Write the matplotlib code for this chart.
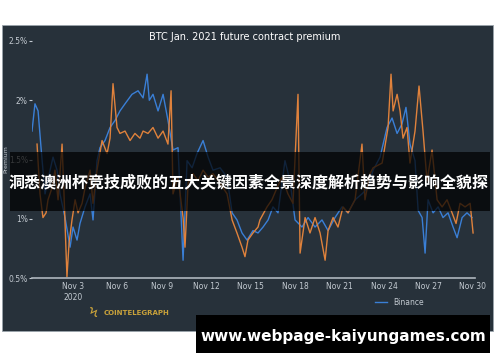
import matplotlib
matplotlib.use("Agg")
import matplotlib.pyplot as plt
from matplotlib.patches import Rectangle
from matplotlib.ticker import FuncFormatter

# premium in %, x = day of November 2020
blue_days = [0.23, 0.43, 0.64, 0.84, 0.97, 1.11, 1.45, 1.65, 1.92, 2.12, 2.46, 2.80, 3.00,
             3.27, 3.47, 3.81, 4.15, 4.35, 4.62, 4.82, 5.16, 5.50, 5.84, 6.17, 6.51, 6.98,
             7.39, 7.73, 8.00, 8.15, 8.40, 8.74, 9.08, 9.41, 9.75, 10.09, 10.43, 10.70,
             11.04, 11.37, 11.78, 12.12, 12.45, 12.93, 13.40, 13.74, 14.07, 14.41, 14.75,
             15.15, 15.49, 15.83, 16.17, 16.50, 16.84, 17.31, 17.65, 17.99, 18.46, 18.87,
             19.34, 19.81, 20.22, 20.69, 21.16, 21.57, 22.04, 22.51, 22.92, 23.26, 23.73,
             24.20, 24.54, 24.88, 25.21, 25.48, 25.75, 26.09, 26.30, 26.57, 26.77, 26.97,
             27.31, 27.65, 27.98, 28.32, 28.66, 28.93, 29.27, 29.60, 29.94]
blue_vals = [1.74, 1.97, 1.91, 1.60, 1.41, 1.21, 1.41, 1.52, 1.41, 1.21, 1.01, 0.76, 0.93,
             0.82, 0.96, 1.10, 1.21, 0.99, 1.49, 1.60, 1.66, 1.77, 1.83, 1.91, 1.97, 2.05,
             2.08, 2.02, 2.22, 2.00, 2.05, 1.91, 2.05, 1.83, 1.58, 1.60, 0.65, 1.49,
             1.43, 1.55, 1.66, 1.52, 1.41, 1.43, 1.35, 1.05, 0.99, 0.88, 0.82,
             0.90, 0.88, 0.93, 0.99, 1.10, 1.05, 1.49, 1.32, 0.99, 0.93, 1.01,
             0.93, 0.99, 0.90, 1.01, 1.10, 1.05, 1.16, 1.21, 1.26, 1.41, 1.52,
             1.77, 1.85, 1.72, 1.80, 1.94, 1.63, 1.49, 1.07, 1.01, 0.71, 1.16,
             1.05, 1.10, 1.01, 1.05, 0.93, 0.84, 1.01, 1.05, 1.01]

orange_days = [0.57, 0.77, 0.97, 1.18, 1.31, 1.58, 1.78, 1.99, 2.26, 2.39, 2.59, 2.73, 2.93,
               3.14, 3.34, 3.61, 3.81, 4.15, 4.35, 4.62, 4.96, 5.30, 5.50, 5.70, 5.97, 6.17,
               6.51, 6.85, 7.18, 7.52, 7.73, 8.06, 8.40, 8.74, 9.08, 9.41, 9.62, 9.75,
               10.09, 10.43, 10.56, 10.77, 11.10, 11.44, 11.78, 12.12, 12.45, 12.93, 13.40,
               13.74, 14.07, 14.41, 14.61, 14.81, 15.15, 15.49, 15.62, 16.10, 16.43, 16.77,
               17.11, 17.51, 17.85, 18.19, 18.33, 18.67, 19.00, 19.34, 19.68, 20.02, 20.22,
               20.56, 20.89, 21.23, 21.57, 22.04, 22.51, 22.71, 23.05, 23.26, 23.87, 24.27,
               24.47, 24.61, 24.88, 25.08, 25.28, 25.55, 25.75, 26.09, 26.36, 26.63, 26.90,
               27.24, 27.58, 27.92, 28.25, 28.59, 28.86, 29.13, 29.47, 29.81, 30.01]
orange_vals = [1.63, 1.21, 1.01, 1.05, 1.16, 1.26, 1.41, 1.16, 1.63, 1.21, 0.51, 0.79, 0.99,
               1.16, 1.05, 1.13, 1.26, 1.41, 1.13, 1.41, 1.66, 1.55, 1.68, 2.14, 1.77, 1.72,
               1.74, 1.66, 1.72, 1.68, 1.74, 1.72, 1.77, 1.68, 1.74, 1.63, 2.08, 1.21,
               1.35, 1.01, 0.76, 1.30, 1.38, 1.32, 1.41, 1.35, 1.38, 1.30, 1.21,
               0.99, 0.88, 0.76, 0.68, 0.82, 0.88, 0.93, 0.99, 1.10, 1.16, 1.26,
               1.35, 1.21, 1.13, 2.05, 0.71, 1.01, 0.88, 1.01, 0.88, 0.65, 0.90,
               1.01, 0.93, 1.10, 1.05, 1.16, 1.63, 1.16, 1.38, 1.43, 1.47, 1.77,
               2.22, 1.91, 2.05, 1.91, 1.68, 1.77, 1.47, 1.74, 2.12, 1.74, 1.32,
               1.58, 1.16, 1.10, 1.16, 1.05, 0.96, 1.13, 1.10, 1.13, 0.88]

tick_days = [3, 6, 9, 12, 15, 18, 21, 24, 27, 30]
tick_labels = ["Nov 3\n2020", "Nov 6", "Nov 9", "Nov 12", "Nov 15", "Nov 18",
               "Nov 21", "Nov 24", "Nov 27", "Nov 30"]

bg = "#27313a"
txt = "#c3cad1"
W, H = 500, 362

fig = plt.figure(figsize=(5, 3.62), dpi=100, facecolor="white")

# dark panel behind the chart
fig.add_artist(Rectangle((2 / W, 1 - 331 / H), 491 / W, 306 / H, transform=fig.transFigure,
                         facecolor=bg, edgecolor="#9aa3ab", lw=0.6, zorder=-5))

ax = fig.add_axes([32 / W, 1 - 278 / H, 443 / W, 237 / H])
ax.set_facecolor("none")
ax.plot(blue_days, blue_vals, color="#3a7fd6", lw=1.0, label="Binance")
ax.plot(orange_days, orange_vals, color="#e0823c", lw=1.0, label="OKEx")
ax.set_xlim(0.23, 30.14)
ax.set_ylim(0.5, 2.5)

for s in ["top", "right", "left"]:
    ax.spines[s].set_visible(False)
ax.spines["bottom"].set_color("#aeb6bd")
ax.spines["bottom"].set_linewidth(1.2)

ax.set_yticks([0.5, 1, 1.5, 2, 2.5])
ax.yaxis.set_major_formatter(FuncFormatter(lambda v, p: f"{v:g}%"))
ax.tick_params(axis="y", colors=txt, labelsize=5.5, length=2, pad=1)
ax.set_xticks(tick_days)
ax.set_xticklabels(tick_labels)
ax.tick_params(axis="x", colors=txt, labelsize=5.5, length=0, pad=3)

fig.text(6 / W, 1 - 159 / H, "Premium", rotation=90, color=txt, fontsize=4.5,
         ha="center", va="center")
fig.text(245 / W, 1 - 37 / H, "BTC Jan. 2021 future contract premium", color="white",
         fontsize=7, ha="center", va="center")
fig.text(104 / W, 1 - 313 / H, "COINTELEGRAPH", color="#c9a23a", fontsize=5,
         fontweight="bold", ha="left", va="center")
fig.text(93 / W, 1 - 313 / H, "\u03de", color="#c9a23a", fontsize=10,
         ha="center", va="center")

# legend (second entry sits under the watermark)
leg = ax.legend(loc="upper left", bbox_to_anchor=(340 / 443, -0.07), frameon=False,
                fontsize=5.5, labelcolor=txt, handlelength=1.6, borderaxespad=0,
                labelspacing=1.3)

# overlay banner
fig.add_artist(Rectangle((10 / W, 1 - 211 / H), 480 / W, 59 / H, transform=fig.transFigure,
                         facecolor="black", alpha=0.72, lw=0, zorder=10))
fig.text(249 / W, 1 - 182 / H, "洞悉澳洲杯竞技成败的五大关键因素全景深度解析趋势与影响全貌探",
         color="white", fontsize=11.5, fontweight="bold", ha="center", va="center",
         family=["Noto Sans CJK SC", "DejaVu Sans"], zorder=11)

# watermark
fig.add_artist(Rectangle((196 / W, 1 - 353 / H), 294 / W, 38 / H, transform=fig.transFigure,
                         facecolor="black", lw=0, zorder=10))
fig.text(343 / W, 1 - 336 / H, "www.webpage-kaiyungames.com", color="white", fontsize=11,
         fontweight="bold", ha="center", va="center", zorder=11)

fig.savefig("out.png", dpi=100, facecolor="white")
